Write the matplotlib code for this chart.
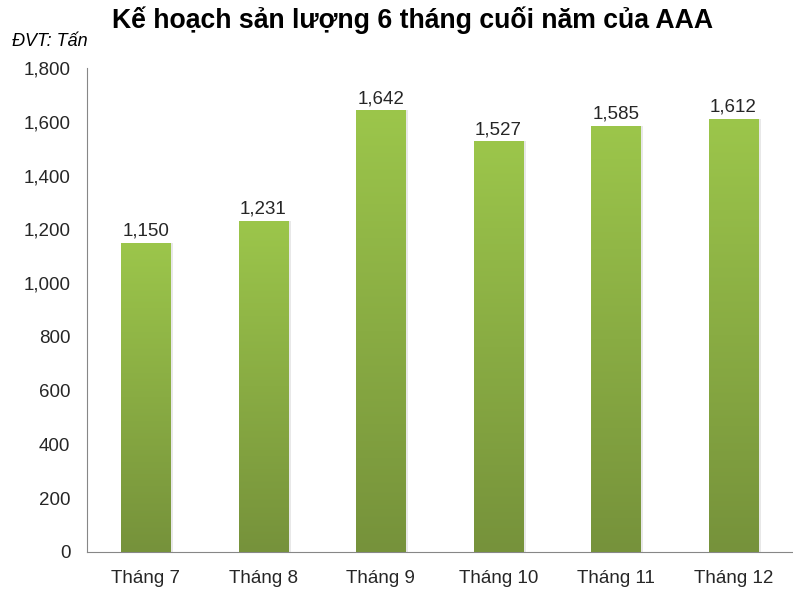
import matplotlib
matplotlib.use("Agg")
import matplotlib.pyplot as plt
import numpy as np
from matplotlib.colors import LinearSegmentedColormap

categories = ["Tháng 7", "Tháng 8", "Tháng 9", "Tháng 10", "Tháng 11", "Tháng 12"]
values = [1150, 1231, 1642, 1527, 1585, 1612]
value_labels = ["1,150", "1,231", "1,642", "1,527", "1,585", "1,612"]
yticks = [0, 200, 400, 600, 800, 1000, 1200, 1400, 1600, 1800]
ytick_labels = ["0", "200", "400", "600", "800", "1,000", "1,200", "1,400", "1,600", "1,800"]

plt.rcParams['font.family'] = ['Liberation Sans', 'DejaVu Sans']

fig = plt.figure(figsize=(7.93, 5.9), dpi=100)
ax = fig.add_axes([87/793, 1-552/590, (792-87)/793, (552-68)/590])

x = np.arange(len(categories))
bars = ax.bar(x, values, width=0.42, color='#8db045', zorder=2)

cmap = LinearSegmentedColormap.from_list('g', ['#76923b', '#9cc64b'])
grad = np.linspace(0, 1, 256).reshape(-1, 1)
for b in bars:
    bx, by = b.get_x(), b.get_y()
    w, h = b.get_width(), b.get_height()
    # subtle shadow
    ax.bar(bx + w/2 + 0.025, h, width=w, color='#d9d9d9', zorder=1, alpha=0.6)
    im = ax.imshow(grad, extent=[bx, bx + w, 0, h], origin='lower', cmap=cmap,
                   aspect='auto', zorder=3, interpolation='bicubic')
    im.set_clip_path(b)

for xi, v, lab in zip(x, values, value_labels):
    ax.text(xi, v + 12, lab, ha='center', va='bottom', fontsize=13.5, color='#262626')

ax.set_xlim(-0.5, len(categories) - 0.5)
ax.set_ylim(0, 1800)
ax.set_yticks(yticks)
ax.set_yticklabels(ytick_labels, fontsize=13.5, color='#262626')
ax.set_xticks(x)
ax.set_xticklabels(categories, fontsize=13.5, color='#262626')
ax.tick_params(axis='y', length=0, pad=12)
ax.tick_params(axis='x', length=0, pad=13)
for s in ['top', 'right']:
    ax.spines[s].set_visible(False)
ax.spines['left'].set_color('#878787')
ax.spines['bottom'].set_color('#878787')

fig.text(112/793, 1-20/590, "Kế hoạch sản lượng 6 tháng cuối năm của AAA",
         fontsize=19.2, fontweight='bold', ha='left', va='center', color='#000000')
fig.text(12/793, 1-42/590, "ĐVT: Tấn", fontsize=13, style='italic', ha='left', va='center')

fig.savefig("out.png", dpi=100)
